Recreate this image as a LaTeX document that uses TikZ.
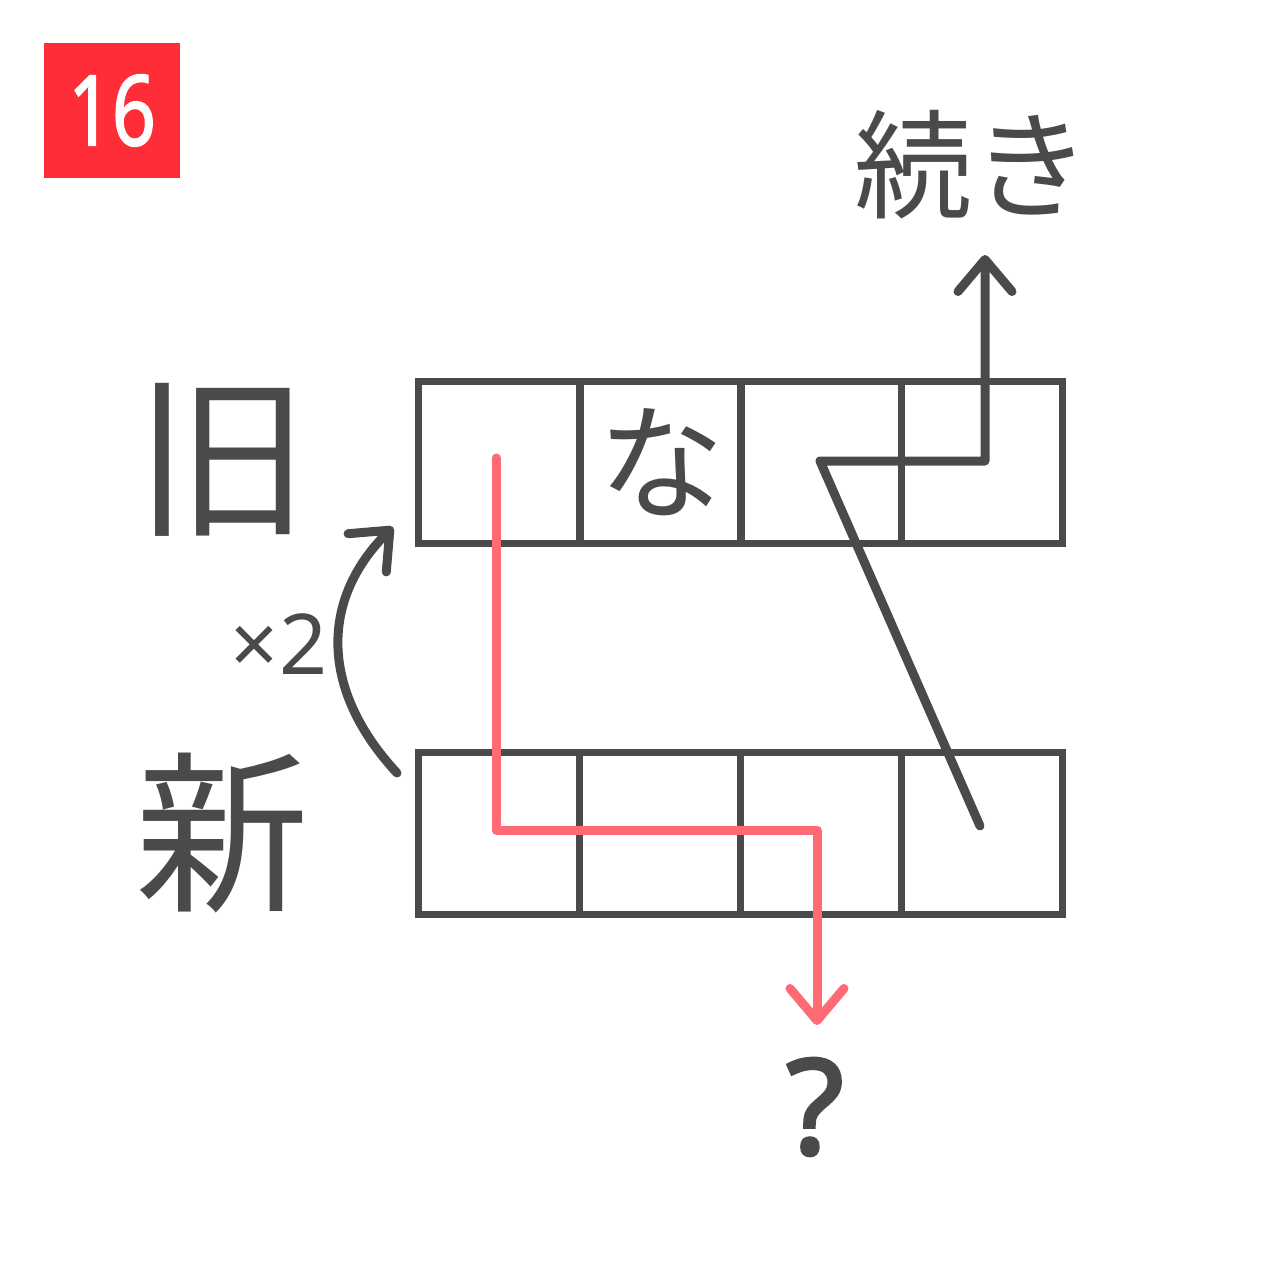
\documentclass[tikz,border=0pt]{standalone}
\usepackage{fontspec}
\setmainfont{Noto Sans CJK JP}
\newfontfamily\jpfont{Noto Sans CJK JP}
\newfontfamily\latfont{Noto Sans}
\newfontfamily\qfont[FakeBold=2.5]{Noto Sans}
\newfontfamily\numfont[FakeStretch=0.78,FakeBold=1.5]{Noto Sans}
\usetikzlibrary{arrows.meta}
\definecolor{ink}{HTML}{4A4A4A}
\definecolor{pathred}{HTML}{FF6B75}
\definecolor{badgered}{HTML}{FF2D37}
\tikzset{
  cell/.style={draw=ink, line width=3.5pt, minimum width=80.5pt, minimum height=81pt, inner sep=0pt, outer sep=0pt, text=ink},
  conn/.style={line cap=round, line join=round, -{Straight Barb[length=16pt,width=27pt,line cap=round,line join=round]}},
  lbl/.style={text=ink, inner sep=0pt}
}
\begin{document}
\begin{tikzpicture}[x=0.5pt,y=-0.5pt]
\useasboundingbox (0,0) rectangle (1280,1280);
\fill[white] (0,0) rectangle (1280,1280);
% badge
\node[fill=badgered, minimum width=68pt, minimum height=67.5pt, inner sep=0pt, text=white, font=\numfont\fontsize{49}{49}\selectfont] (badge) at (112,110.5) {16};
% rows
\node[cell] (o1) at (499,462) {};
\node[cell, font=\jpfont\fontsize{63}{63}\selectfont] (o2) at (661,462) {な};
\node[cell] (o3) at (820.5,462) {};
\node[cell] (o4) at (981.5,462) {};
\node[cell] (n1) at (499,833) {};
\node[cell] (n2) at (660,833) {};
\node[cell] (n3) at (820.5,833) {};
\node[cell] (n4) at (981.5,833) {};
% labels
\node[lbl, font=\jpfont\fontsize{87}{87}\selectfont] (old) at (222,460) {旧};
\node[lbl, font=\jpfont\fontsize{87}{87}\selectfont] (new) at (222,833) {新};
\node[lbl, font=\latfont\fontsize{42}{42}\selectfont] (times) at (279,644) {×2};
\node[lbl, font=\jpfont\fontsize{59}{59}\selectfont] (cont) at (972,165) {続き};
\node[lbl, font=\qfont\fontsize{66}{66}\selectfont] (q) at (815,1107) {?};
% coordinates
\coordinate (ga) at (980,826);
\coordinate (gb) at (820,461);
\coordinate (gc) at (985,461);
\coordinate (gd) at (985,255);
\coordinate (ra) at (496,458);
\coordinate (rb) at (496,830);
\coordinate (rc) at (817,830);
\coordinate (rd) at (817,1025);
\coordinate (ca) at (397,773);
\coordinate (cb) at (393,527);
% connectors
\draw[conn, draw=ink, line width=4.5pt] (ga) -- (gb) -- (gc) -- (gd);
\draw[conn, draw=pathred, line width=4.5pt] (ra) -- (rb) -- (rc) -- (rd);
\draw[conn, draw=ink, line width=4.5pt] (ca) .. controls (320,690) and (320,600) .. (cb);
\end{tikzpicture}
\end{document}
